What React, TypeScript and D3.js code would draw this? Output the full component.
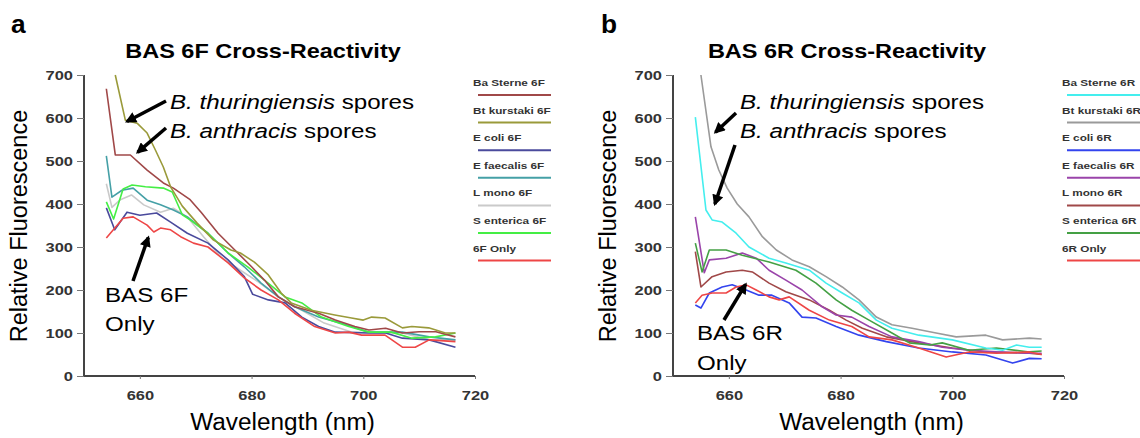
import React, { useEffect, useRef } from 'react';
import * as d3 from 'd3';

// [wavelength nm, relative fluorescence]
const baSterne6F = [[654, 668], [655.6, 514], [658.3, 514], [661.3, 479], [664.2, 449], [666, 437], [669, 410], [671, 380], [674, 332], [677, 293], [680, 254], [682.3, 223], [684.8, 184], [687.7, 161], [692, 146], [695, 130], [698.5, 115], [701, 107], [704, 111], [707, 100], [710, 103], [713, 103], [716.5, 91]];
const btKurstaki6F = [[655.6, 700], [657.4, 595], [659.5, 588], [661.3, 565], [662.8, 525], [664.2, 486], [665.5, 440], [667.6, 395], [670.3, 355], [673.2, 316], [676.3, 293], [678, 286], [680.5, 265], [683, 235], [685.3, 193], [687.1, 170], [690.7, 153], [694.9, 142], [697.9, 135], [700, 130], [701.5, 137], [703.9, 135], [707, 112], [708.7, 115], [711.7, 112], [714.7, 100], [716.5, 100]];
const eColi6F = [[654, 391], [655.5, 340], [657.7, 381], [660, 374], [663, 379], [665.5, 358], [668.5, 332], [672.2, 309], [675.8, 270], [678.7, 231], [680.2, 190], [683, 177], [686, 170], [689, 137], [692, 115], [695, 102], [701, 100], [704, 100], [707, 88], [711.8, 84], [716.5, 67]];
const eFaecalis6F = [[654, 512], [655, 416], [656.8, 432], [658.8, 437], [661.3, 409], [663.7, 398], [666, 386], [668.5, 370], [672.2, 332], [675.8, 286], [678.7, 254], [681.7, 216], [684.8, 184], [687.7, 161], [692, 137], [696, 123], [701, 102], [707, 102], [711.8, 91], [716.5, 84]];
const lMono6F = [[654, 447], [655, 392], [656.5, 410], [658.5, 421], [660.7, 398], [663.7, 381], [666, 390], [668.5, 370], [671.4, 324], [674.5, 277], [678, 246], [681.2, 219], [684.8, 184], [689, 153], [693, 123], [698, 102], [702.8, 100], [707, 100], [711.8, 84], [716.5, 84]];
const sEnterica6F = [[654, 405], [655.3, 365], [657, 435], [658.6, 444], [661, 440], [664.2, 437], [665.8, 428], [667.6, 375], [669, 363], [672.2, 332], [675.8, 286], [679.3, 254], [682.3, 223], [686, 184], [689, 170], [692.5, 137], [697.4, 115], [701, 102], [705, 102], [708.7, 88], [712.9, 91], [716.5, 100]];
const only6F = [[654, 321], [657, 367], [658.8, 370], [661.3, 351], [662.5, 335], [663.7, 344], [665.5, 340], [667.3, 324], [669.6, 309], [672.2, 300], [675.8, 263], [678.7, 228], [681.7, 200], [684.8, 177], [687.7, 146], [691.3, 115], [695, 100], [697.4, 102], [699.7, 95], [703.9, 95], [707, 67], [709.3, 67], [711.8, 84], [716.5, 80]];

const baSterne6R = [[654, 602], [655.9, 386], [657, 363], [658.8, 358], [661.3, 332], [663.6, 300], [667.2, 274], [670.2, 263], [674.4, 246], [677.4, 216], [680.3, 193], [683.3, 170], [686.4, 130], [689.2, 111], [694, 95], [700, 84], [706, 65], [709, 60], [711.5, 72], [713.8, 67], [716, 67]];
const btKurstaki6R = [[655, 700], [656.8, 533], [658.2, 479], [659.7, 437], [661.5, 400], [663.6, 370], [666, 324], [668.5, 293], [671.3, 270], [674.4, 254], [677.4, 231], [680.3, 207], [683.3, 177], [686.4, 137], [689.2, 119], [692.8, 111], [697.1, 100], [700.7, 91], [706, 95], [709, 84], [713.8, 88], [716, 86]];
const eColi6R = [[654, 165], [655, 158], [656.5, 193], [658.8, 207], [660.6, 212], [663.1, 200], [665.4, 188], [667.7, 188], [670.8, 170], [673.1, 137], [675.6, 135], [679.2, 115], [683.3, 95], [688.2, 80], [694, 65], [700, 56], [706, 49], [710.8, 30], [713.8, 41], [716, 40]];
const eFaecalis6R = [[654, 370], [655.6, 240], [656.5, 270], [659.5, 274], [662.4, 286], [664.9, 274], [667.2, 246], [670.2, 223], [673.1, 200], [676.7, 161], [679.2, 142], [682, 137], [685.1, 115], [689.2, 91], [694, 80], [698.2, 67], [703, 60], [707.9, 56], [713.8, 53], [716, 53]];
const lMono6R = [[654, 289], [655, 207], [657, 231], [659.5, 242], [662.4, 246], [664.2, 242], [667.2, 216], [670.2, 196], [674.4, 177], [678, 153], [681, 130], [683.9, 111], [688.2, 91], [694, 77], [700, 65], [706, 56], [713.8, 53], [716, 50]];
const sEnterica6R = [[654, 309], [655.2, 242], [656.5, 293], [659.5, 293], [662.4, 281], [667.2, 265], [672, 246], [675.6, 216], [679.2, 177], [682, 153], [685.1, 130], [689.2, 100], [692.3, 77], [696, 72], [698.2, 77], [703, 60], [707.9, 65], [713.8, 56], [716, 58]];
const only6R = [[654, 170], [655.2, 188], [657, 193], [659.5, 193], [661.3, 207], [663.1, 212], [664.9, 200], [667.2, 184], [669, 177], [670.8, 184], [674.4, 153], [678, 130], [682, 115], [685.1, 91], [689.2, 84], [694, 65], [698.9, 44], [703, 56], [707.9, 53], [713.8, 56], [716, 50]];

const namesF = ['Ba Sterne 6F', 'Bt kurstaki 6F', 'E coli 6F', 'E faecalis 6F', 'L mono 6F', 'S enterica 6F', '6F Only'];
const colorsF = ['#a04848', '#9a9a3a', '#4a4a9c', '#45a0a6', '#cacaca', '#44ee44', '#ee4646'];
const namesR = ['Ba Sterne 6R', 'Bt kurstaki 6R', 'E coli 6R', 'E faecalis 6R', 'L mono 6R', 'S enterica 6R', '6R Only'];
const colorsR = ['#44eeee', '#9a9a9a', '#3344ee', '#9a44aa', '#a04848', '#44a044', '#ee4646'];

const xTicks = [660, 680, 700, 720];
const yTicks = [0, 100, 200, 300, 400, 500, 600, 700];

const FONT = '"Liberation Sans", Arial, sans-serif';
const SX = 1.15; // the source figure's text is horizontally stretched

const App = () => {
  const svgRef = useRef(null);

  useEffect(() => {
    const svg = d3.select(svgRef.current);
    svg.selectAll('*').remove();

    const defs = svg.append('defs');
    defs.append('marker')
      .attr('id', 'arrowhead')
      .attr('viewBox', '0 0 10 10')
      .attr('refX', 8).attr('refY', 5)
      .attr('markerWidth', 3.4).attr('markerHeight', 3.2)
      .attr('orient', 'auto')
      .append('path').attr('d', 'M0,0 L10,5 L0,10 z').attr('fill', '#000');

    const txt = (g, x, yy, s, size, opts = {}) => {
      const t = g.append('text')
        .attr('transform', `translate(${x},${yy}) scale(${opts.sx || SX},1)`)
        .attr('font-family', FONT).attr('font-size', size)
        .attr('text-anchor', opts.anchor || 'start');
      if (opts.bold) t.attr('font-weight', 'bold');
      if (opts.fill) t.attr('fill', opts.fill);
      if (s != null) t.text(s);
      return t;
    };

    const y = d3.scaleLinear().domain([0, 700]).range([376, 75]);

    const panels = [
      {
        label: 'a', labelX: 11, title: 'BAS 6F Cross-Reactivity', titleX: 263,
        x0: 84, x1: 475, series: [baSterne6F, btKurstaki6F, eColi6F, eFaecalis6F, lMono6F, sEnterica6F, only6F],
        names: namesF, colors: colorsF, legendX: 473,
        only: ['BAS 6F', 'Only'], onlyX: 105, onlyY: [302, 331],
        arrows: [
          { from: [166, 101], to: [657.7, 592] },
          { from: [166, 128], to: [659.6, 520] },
          { from: [133, 281], to: [661.5, 322] },
        ],
        annX: 170,
      },
      {
        label: 'b', labelX: 601, title: 'BAS 6R Cross-Reactivity', titleX: 847,
        x0: 673, x1: 1064, series: [baSterne6R, btKurstaki6R, eColi6R, eFaecalis6R, lMono6R, sEnterica6R, only6R],
        names: namesR, colors: colorsR, legendX: 1062,
        only: ['BAS 6R', 'Only'], onlyX: 697, onlyY: [340, 370],
        arrows: [
          { from: [736, 113], to: [657.6, 567] },
          { from: [735, 145], to: [657.5, 400] },
          { from: [724, 320], to: [663, 213] },
        ],
        annX: 740,
      },
    ];

    panels.forEach(p => {
      const x = d3.scaleLinear().domain([650, 720]).range([p.x0, p.x1]);
      const g = svg.append('g');

      // panel letter and title
      txt(g, p.labelX, 33, p.label, 25, { bold: true, sx: 1.05 });
      txt(g, p.titleX, 58, p.title, 21, { bold: true, anchor: 'middle', sx: 1.12 });

      // axes
      const yAxis = g.append('g').attr('transform', `translate(${p.x0},0)`)
        .call(d3.axisLeft(y).tickValues(yTicks).tickSize(7).tickPadding(4).tickFormat(d3.format('d')));
      const xAxis = g.append('g').attr('transform', 'translate(0,376)')
        .call(d3.axisBottom(x).tickValues(xTicks).tickSize(3).tickPadding(11).tickFormat(d3.format('d')));
      [yAxis, xAxis].forEach(a => {
        a.select('.domain').attr('stroke', '#444').attr('stroke-width', 2);
        a.selectAll('.tick line').attr('stroke', '#777').attr('stroke-width', 1);
        a.selectAll('.tick text').attr('font-family', FONT).attr('font-weight', 'bold')
          .attr('font-size', 13.5).attr('fill', '#333');
      });
      yAxis.selectAll('.tick text').attr('x', 0).attr('transform', 'translate(-11,0) scale(1.22,1)');
      xAxis.selectAll('.tick text').attr('transform', 'scale(1.22,1)');
      xAxis.select('.domain').attr('d', `M${p.x0},0H${p.x1}`);
      yAxis.select('.domain').attr('d', `M0,${y(0)}V${y(700)}`);

      // axis titles
      g.append('text')
        .attr('transform', `translate(${p.x0 - 57},226) rotate(-90)`)
        .attr('text-anchor', 'middle')
        .attr('font-family', FONT).attr('font-size', 23.5)
        .text('Relative Fluorescence');
      txt(g, (p.x0 + p.x1) / 2 + 3, 430, 'Wavelength (nm)', 23, { anchor: 'middle', sx: 1.06 });

      // lines
      const line = d3.line().x(d => x(d[0])).y(d => y(d[1]));
      const drawOrder = [4, 3, 2, 5, 0, 1, 6];
      drawOrder.forEach(i => {
        g.append('path').datum(p.series[i])
          .attr('fill', 'none').attr('stroke', p.colors[i]).attr('stroke-width', 1.6)
          .attr('stroke-linejoin', 'round')
          .attr('d', line);
      });

      // legend
      p.names.forEach((n, i) => {
        const ly = 86 + i * 27.6;
        txt(g, p.legendX, ly, n, 9.8, { bold: true, fill: '#333', sx: 1.2 });
        g.append('line').attr('x1', p.legendX + 5).attr('x2', p.legendX + 78)
          .attr('y1', ly + 9).attr('y2', ly + 9)
          .attr('stroke', p.colors[i]).attr('stroke-width', 2);
      });

      // annotations
      const ann = (ty, italic) => {
        const t = txt(g, p.annX, ty, null, 21);
        t.append('tspan').attr('font-style', 'italic').text(italic);
        t.append('tspan').text(' spores');
      };
      ann(109, 'B. thuringiensis');
      ann(138, 'B. anthracis');
      p.only.forEach((s, i) => txt(g, p.onlyX, p.onlyY[i], s, 21));
      p.arrows.forEach(a => {
        g.append('line')
          .attr('x1', a.from[0]).attr('y1', a.from[1])
          .attr('x2', x(a.to[0])).attr('y2', y(a.to[1]))
          .attr('stroke', '#000').attr('stroke-width', 3.5)
          .attr('marker-end', 'url(#arrowhead)');
      });
    });
  }, []);

  return (
    <svg ref={svgRef} width={1140} height={438}
      style={{ position: 'absolute', left: 0, top: 0, background: '#fff' }} />
  );
};

export default App;
